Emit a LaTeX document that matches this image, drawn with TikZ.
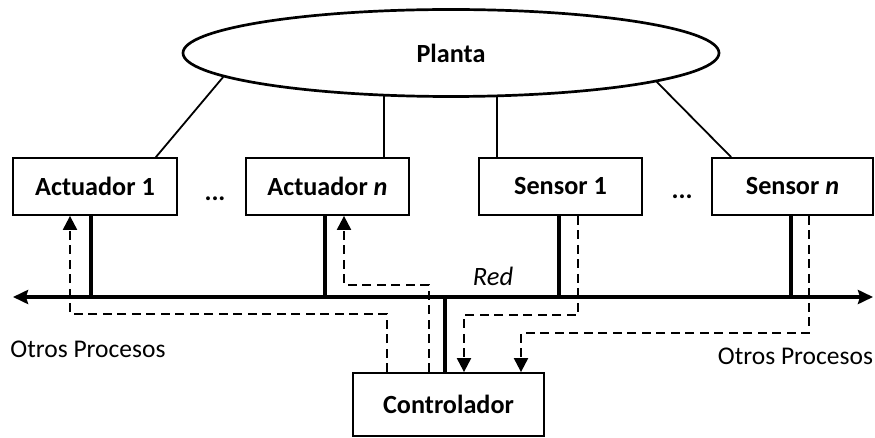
\documentclass[tikz,border=0pt]{standalone}
\usepackage{fontspec}
\setmainfont{Carlito}
\usetikzlibrary{shapes.geometric,arrows.meta}
\begin{document}
\begin{tikzpicture}[x=1pt,y=-1pt,
  every node/.style={font=\fontsize{25.5}{30}\selectfont},
  boldtext/.style={font=\fontsize{26.2}{30}\selectfont\bfseries},
  boxnode/.style={draw,line width=1.8pt,minimum width=163pt,minimum height=57pt,inner sep=0pt,boldtext},
  thinline/.style={line width=1.8pt},
  thickline/.style={line width=4.2pt},
  dsh/.style={line width=2.1pt,dash pattern=on 9pt off 5.5pt},
  dtip/.style={-{Triangle[length=14pt,width=14pt]}}
]
\useasboundingbox (0,0) rectangle (875,438);
% nodes
\node[ellipse,draw,line width=2.7pt,minimum width=536pt,minimum height=87pt,inner sep=0pt,boldtext] (plant) at (451,53) {Planta};
\node[boxnode,minimum width=164pt] (a1) at (95,186.5) {Actuador 1};
\node[boxnode] (an) at (327.5,186.5) {Actuador \textit{n}};
\node[boxnode] (s1) at (560.5,186.5) {Sensor 1};
\node[boxnode,minimum width=161pt] (sn) at (792.5,186.5) {Sensor \textit{n}};
\node[draw,line width=1.8pt,minimum width=191pt,minimum height=63pt,inner sep=0pt,boldtext] (ctrl) at (448.5,404.5) {Controlador};
\node[anchor=base,boldtext] (dots1) at (215,201) {...};
\node[anchor=base,boldtext] (dots2) at (682,199) {...};
\node[anchor=base,font=\fontsize{26.5}{30}\selectfont\itshape] (red) at (493,285) {Red};
\node[anchor=base] (op1) at (88,357) {Otros Procesos};
\node[anchor=base] (op2) at (795.5,364) {Otros Procesos};
% bus
\coordinate (busL) at (13,297);
\coordinate (busR) at (873,297);
\draw[thickline,{Stealth[length=15pt,width=14pt,inset=2pt]}-{Stealth[length=15pt,width=14pt,inset=2pt]}] (busL) -- (busR);
% plant links
\draw[thinline] (plant.186.7) -- ([xshift=-22pt]a1.north east);
\draw[thinline] (plant.213.4) -- (plant.213.4 |- an.north);
\draw[thinline] (plant.316.4) -- (plant.316.4 |- s1.north);
\draw[thinline] (plant.352.6) -- ([xshift=20pt]sn.north west);
% thick drops to bus
\draw[thickline] ([xshift=-4pt]a1.south) -- ([xshift=-4pt]a1.south |- busL);
\draw[thickline] ([xshift=-2.5pt]an.south) -- ([xshift=-2.5pt]an.south |- busL);
\draw[thickline] ([xshift=-1.5pt]s1.south) -- ([xshift=-1.5pt]s1.south |- busL);
\draw[thickline] ([xshift=-1.5pt]sn.south) -- ([xshift=-1.5pt]sn.south |- busL);
\draw[thickline] ([xshift=-3.5pt]ctrl.north) -- ([xshift=-3.5pt]ctrl.north |- busL);
% dashed signal paths
\draw[dsh,dtip] ([xshift=-61.5pt]ctrl.north) -- ++(0,-58) -| ([xshift=-25pt]a1.south);
\draw[dsh,dtip] ([xshift=-19.5pt]ctrl.north) -- ++(0,-87) -| ([xshift=16.5pt]an.south);
\draw[dsh,dtip] ([xshift=17.5pt]s1.south) -- ++(0,99) -| ([xshift=15.5pt]ctrl.north);
\draw[dsh,dtip] ([xshift=16.5pt]sn.south) -- ++(0,117) -| ([xshift=72.5pt]ctrl.north);
\end{tikzpicture}
\end{document}
